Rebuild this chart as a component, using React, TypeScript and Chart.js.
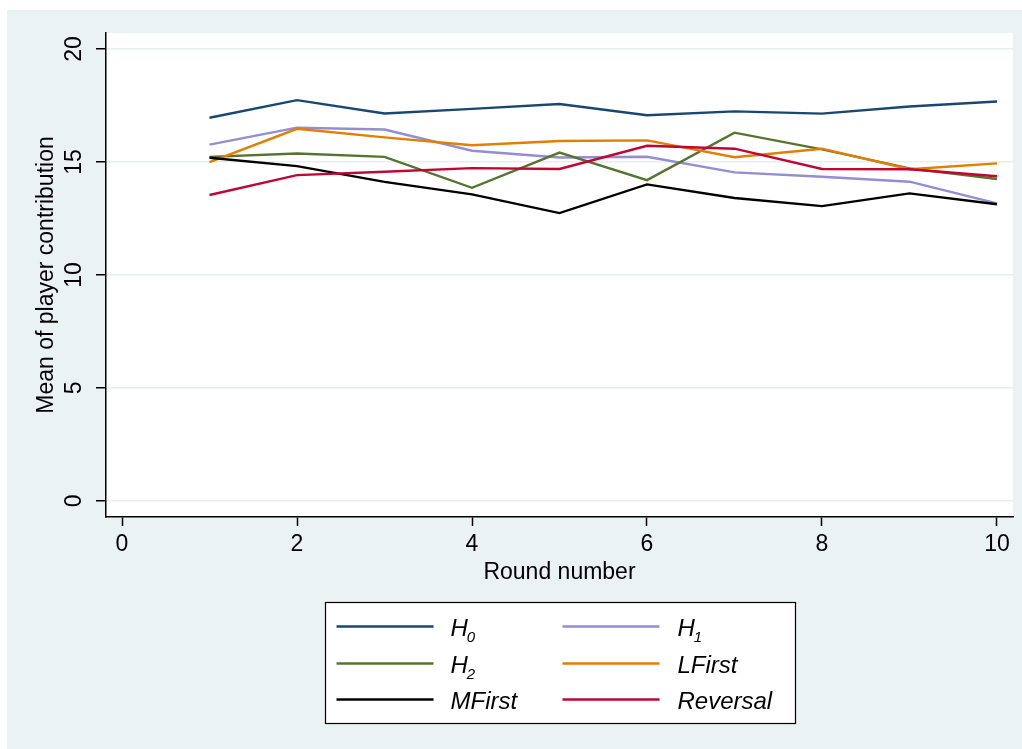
import { useEffect, useRef } from "react";
import { Chart, registerables } from "chart.js";

Chart.register(...registerables);

// Round numbers on the x axis
const rounds = [1, 2, 3, 4, 5, 6, 7, 8, 9, 10];

// Mean player contribution per round, one list per treatment
const h0 = [16.96, 17.74, 17.15, 17.35, 17.57, 17.07, 17.24, 17.14, 17.46, 17.68];
const h1 = [15.77, 16.52, 16.44, 15.5, 15.2, 15.23, 14.54, 14.35, 14.13, 13.17];
const h2 = [15.23, 15.38, 15.23, 13.86, 15.42, 14.2, 16.3, 15.56, 14.72, 14.25];
const lFirst = [15.0, 16.47, 16.09, 15.74, 15.93, 15.96, 15.21, 15.59, 14.68, 14.94];
const mFirst = [15.19, 14.82, 14.12, 13.57, 12.74, 14.01, 13.41, 13.05, 13.61, 13.13];
const reversal = [13.54, 14.42, 14.57, 14.73, 14.69, 15.72, 15.59, 14.69, 14.68, 14.37];

// Treatment names; "_" marks a subscript
const seriesNames = ["H_0", "H_1", "H_2", "LFirst", "MFirst", "Reversal"];
const seriesValues = [h0, h1, h2, lFirst, mFirst, reversal];
const seriesColors = ["#1a476f", "#938dd2", "#55752f", "#e37e00", "#000000", "#c10534"];

const xTicks = [0, 2, 4, 6, 8, 10];
const yTicks = [0, 5, 10, 15, 20];

const xTitle = "Round number";
const yTitle = "Mean of player contribution";

const FONT = "'Liberation Sans', Arial, Helvetica, sans-serif";
const PANEL_BG = "#eaf2f3";

function drawLegendLabel(ctx: CanvasRenderingContext2D, text: string, x: number, y: number) {
  const [base, sub] = text.split("_");
  ctx.font = `italic 24px ${FONT}`;
  ctx.fillText(base, x, y);
  if (sub) {
    const w = ctx.measureText(base).width;
    ctx.font = `italic 15px ${FONT}`;
    ctx.fillText(sub, x + w - 1, y + 6);
  }
}

const framePlugin = {
  id: "stataFrame",
  beforeDraw(chart: Chart) {
    const { ctx, width, height, chartArea } = chart;
    ctx.save();
    ctx.fillStyle = "#ffffff";
    ctx.fillRect(0, 0, width, height);
    ctx.fillStyle = PANEL_BG;
    ctx.fillRect(7, 10, width - 7, height - 10);
    ctx.fillStyle = "#ffffff";
    ctx.fillRect(chartArea.left, chartArea.top, chartArea.right - chartArea.left, chartArea.bottom - chartArea.top);
    ctx.restore();
  },
  afterDraw(chart: Chart) {
    const { ctx, chartArea } = chart;
    const yScale: any = chart.scales.y;

    // Vertical tick labels on the y axis
    ctx.save();
    ctx.fillStyle = "#000";
    ctx.font = `23px ${FONT}`;
    ctx.textAlign = "center";
    ctx.textBaseline = "middle";
    for (const t of yScale.ticks) {
      const py = yScale.getPixelForValue(t.value);
      ctx.save();
      ctx.translate(yScale.right - 32, py);
      ctx.rotate(-Math.PI / 2);
      ctx.fillText(String(t.value), 0, 1);
      ctx.restore();
    }
    ctx.restore();

    // Legend box below the axis title
    const cx = (chartArea.left + chartArea.right) / 2;
    const boxW = 470;
    const boxH = 121;
    const boxL = Math.round(cx - boxW / 2) + 0.5;
    const boxT = 602.5;
    ctx.save();
    ctx.fillStyle = "#ffffff";
    ctx.fillRect(boxL, boxT, boxW, boxH);
    ctx.strokeStyle = "#000";
    ctx.lineWidth = 1.2;
    ctx.strokeRect(boxL, boxT, boxW, boxH);

    const colLine = [11, 237];
    const colText = [125, 352];
    const rowY = [24, 61, 97];
    const lineLen = 97;
    ctx.textAlign = "left";
    ctx.textBaseline = "alphabetic";
    seriesNames.forEach((name, i) => {
      const col = i % 2;
      const row = Math.floor(i / 2);
      const y = boxT + rowY[row];
      ctx.strokeStyle = seriesColors[i];
      ctx.lineWidth = 2.4;
      ctx.beginPath();
      ctx.moveTo(boxL + colLine[col], y);
      ctx.lineTo(boxL + colLine[col] + lineLen, y);
      ctx.stroke();
      ctx.fillStyle = "#000";
      drawLegendLabel(ctx, name, boxL + colText[col], y + 9);
    });
    ctx.restore();
  },
};

export default function App() {
  const canvasRef = useRef<HTMLCanvasElement | null>(null);

  useEffect(() => {
    const canvas = canvasRef.current;
    if (!canvas) return;

    const datasets = seriesNames.map((name, i) => ({
      label: name,
      data: seriesValues[i].map((v, k) => ({ x: rounds[k], y: v })),
      borderColor: seriesColors[i],
      backgroundColor: seriesColors[i],
      borderWidth: 2.4,
      pointRadius: 0,
      tension: 0,
      fill: false,
      order: seriesNames.length - i,
    }));

    const chart = new Chart(canvas, {
      type: "line",
      data: { datasets },
      plugins: [framePlugin],
      options: {
        responsive: false,
        animation: false,
        events: [],
        layout: { padding: { left: 0, top: 33, right: 9, bottom: 163 } },
        plugins: {
          legend: { display: false },
          tooltip: { enabled: false },
        },
        scales: {
          x: {
            type: "linear",
            min: -0.183,
            max: 10.183,
            afterBuildTicks: (s: any) => {
              s.ticks = xTicks.map((v) => ({ value: v }));
            },
            afterFit: (s: any) => {
              s.height = 69;
            },
            grid: {
              drawOnChartArea: false,
              color: "#000",
              tickLength: 9,
              tickWidth: 1.5,
              tickColor: "#000",
            },
            border: { display: true, color: "#000", width: 1.5 },
            ticks: {
              font: { family: FONT, size: 23 },
              color: "#000",
              padding: 5,
              maxRotation: 0,
              autoSkip: false,
            },
            title: {
              display: true,
              text: xTitle,
              font: { family: FONT, size: 23 },
              color: "#000",
              padding: { top: 0, bottom: 0 },
            },
          },
          y: {
            type: "linear",
            min: -0.71,
            max: 20.71,
            afterBuildTicks: (s: any) => {
              s.ticks = yTicks.map((v) => ({ value: v }));
            },
            afterFit: (s: any) => {
              s.width = 106;
            },
            grid: {
              color: "#e6eef0",
              lineWidth: 1.5,
              tickLength: 10,
              tickWidth: 1.5,
              tickColor: "#000",
            },
            border: { display: true, color: "#000", width: 1.5 },
            ticks: {
              font: { family: FONT, size: 23 },
              color: "rgba(0,0,0,0)",
              autoSkip: false,
            },
            title: {
              display: true,
              text: yTitle,
              font: { family: FONT, size: 23 },
              color: "#000",
              padding: { top: 33, bottom: 0 },
            },
          },
        },
      },
    });

    return () => chart.destroy();
  }, []);

  return (
    <div style={{ position: "absolute", left: 0, top: 0, width: 1022, height: 749 }}>
      <canvas ref={canvasRef} width={1022} height={749} style={{ display: "block" }} />
    </div>
  );
}
